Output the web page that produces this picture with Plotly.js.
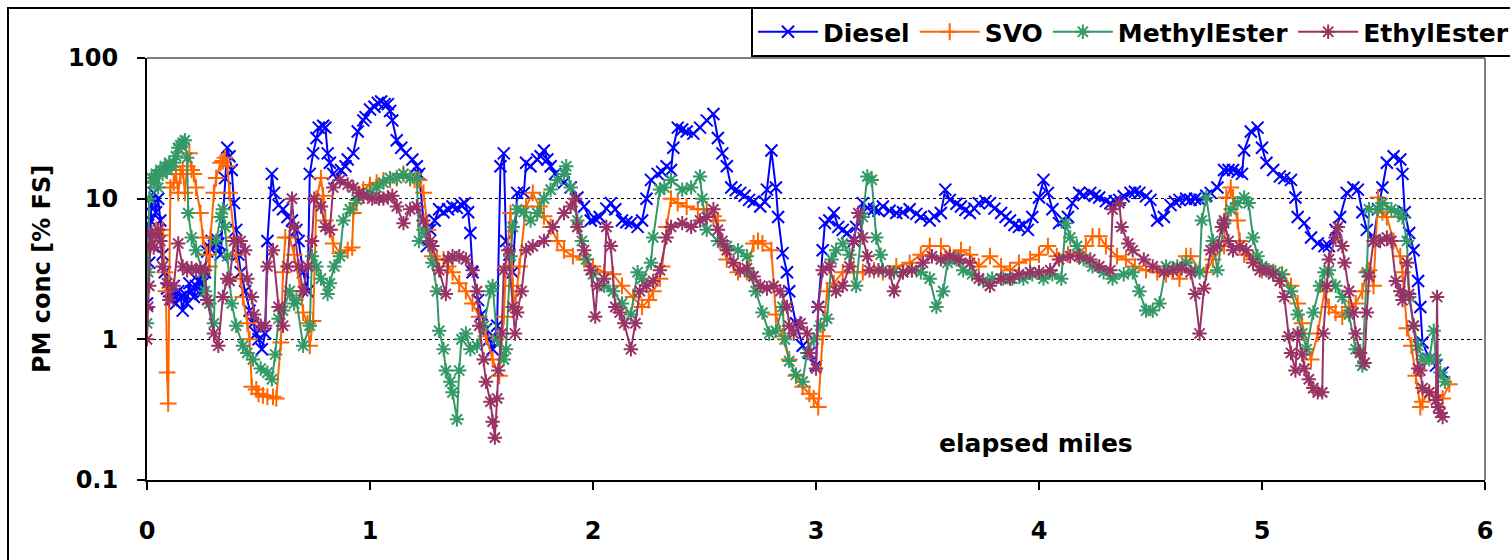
<!DOCTYPE html>
<html><head><meta charset="utf-8">
<script src="https://cdn.plot.ly/plotly-3.0.1.min.js"></script>
<style>
html,body{margin:0;padding:0;background:#fff;}
#wrap{position:relative;width:1510px;height:560px;overflow:hidden;}
#chart{position:absolute;left:0;top:0;width:1510px;height:560px;}
#frame{position:absolute;left:7px;top:7px;width:1520px;height:570px;border:2px solid #000;pointer-events:none;}
</style></head>
<body><div id="wrap"><div id="chart"></div><div id="frame"></div></div>
<script>
const xTickVals = [0,1,2,3,4,5,6];
const yTickVals = [0.1,1,10,100];
const yTickText = ['0.1','1','10','100'];
const seriesNames = ['Diesel','SVO','MethylEster','EthylEster'];

const dieselX = [0,0.005,0.01,0.015,0.02,0.03,0.04,0.05,0.06,0.07,0.08,0.09,0.10,0.11,0.12,0.13,0.14,0.15,0.16,0.17,0.18,0.19,0.20,0.21,0.22,0.23,0.24,0.25,0.26,0.27,0.28,0.29,0.30,0.31,0.32,0.33,0.35,0.36,0.37,0.38,0.39,0.40,0.41,0.42,0.44,0.46,0.475,0.49,0.50,0.515,0.53,0.54,0.56,0.57,0.59,0.61,0.63,0.65,0.67,0.68,0.70,0.72,0.73,0.745,0.76,0.77,0.79,0.80,0.81,0.82,0.835,0.85,0.87,0.89,0.90,0.925,0.945,0.97,0.98,1.00,1.02,1.035,1.05,1.065,1.08,1.09,1.10,1.12,1.14,1.16,1.19,1.21,1.22,1.24,1.255,1.27,1.29,1.31,1.33,1.35,1.37,1.39,1.41,1.425,1.44,1.45,1.46,1.485,1.50,1.52,1.535,1.55,1.57,1.585,1.60,1.61,1.625,1.64,1.66,1.69,1.70,1.72,1.75,1.765,1.78,1.795,1.81,1.83,1.85,1.87,1.90,1.93,1.96,1.99,2.01,2.03,2.06,2.08,2.10,2.13,2.15,2.17,2.20,2.22,2.24,2.26,2.29,2.31,2.33,2.35,2.36,2.38,2.40,2.42,2.45,2.48,2.51,2.54,2.56,2.58,2.60,2.62,2.64,2.66,2.68,2.70,2.72,2.75,2.77,2.78,2.80,2.82,2.83,2.85,2.87,2.88,2.91,2.94,2.97,3.00,3.01,3.03,3.04,3.06,3.08,3.10,3.12,3.14,3.17,3.18,3.21,3.23,3.26,3.28,3.30,3.33,3.36,3.39,3.42,3.45,3.47,3.51,3.53,3.56,3.58,3.60,3.63,3.65,3.67,3.69,3.71,3.73,3.76,3.78,3.80,3.83,3.85,3.87,3.89,3.91,3.93,3.95,3.97,4.00,4.02,4.04,4.06,4.09,4.11,4.13,4.15,4.18,4.20,4.23,4.25,4.27,4.30,4.32,4.34,4.36,4.38,4.41,4.43,4.45,4.48,4.50,4.53,4.56,4.59,4.61,4.63,4.66,4.68,4.70,4.72,4.75,4.77,4.80,4.83,4.85,4.87,4.89,4.91,4.92,4.95,4.98,5.00,5.02,5.05,5.08,5.10,5.13,5.15,5.16,5.19,5.22,5.25,5.28,5.30,5.33,5.35,5.38,5.41,5.43,5.45,5.47,5.50,5.52,5.54,5.56,5.59,5.62,5.63,5.64,5.66,5.68,5.70,5.71,5.72,5.75,5.78,5.81];
const dieselY = [1.8,6.5,3.5,7,9,11,8,10,7,4,3,2.3,2.2,1.9,2.4,1.8,2.2,2.0,1.6,2.1,1.8,2.5,2.2,2.0,2.4,2.6,2.1,2.5,3.0,4.2,4.5,5.0,4.6,5.2,4.8,4.0,14,23,20,16,9.3,6,4,3,2.2,1.6,1.3,1.1,1.0,0.85,1.1,5,15,11,9,8.4,7.4,7.0,6,5,3,2.2,15,21,27,32,33,32,21,18,15,14,16,17,19,21,30,36,38,43,45,48,49,47,47,42,36,26,23,21,19,17,15,7,4.6,6,7,8.4,8,8.4,8.8,8.6,9.0,9.3,8,5.7,3,1.9,1.5,1.18,1.0,0.85,1.25,17,21,5,4,3,11,11,18,17,19,20,22,19,17,15,14,13,12,10.2,8.8,7,7.2,7.4,8.5,9.3,8.4,7,6.8,6.7,6.3,7,10,13.6,15,15.5,17,16,23,32,31,30,29,32,36,40,27,21,17,12,11.5,11,10.5,9.8,9.5,8.8,9.5,11.6,22,12,7.4,4.1,3,2.2,1.3,0.9,0.8,0.65,1.7,4.3,6.7,7,7.9,6.3,6,5.7,5,6.3,9.3,8.6,8.4,8.2,8.8,8.2,7.9,8.0,8.4,7.8,7.4,7,7.5,7.9,11.6,9.8,9.2,8.8,8.3,7.9,8.5,9.3,9.6,9.3,8.5,7.9,7.4,7,6.5,6.3,6.5,6,7.4,10.2,13.6,11,8.4,6.7,7.0,7.4,9.3,11,10.6,11,10.5,10.2,9.6,9.3,9.6,9.8,10.4,11,11.2,11,10.4,9.8,7,7.4,9.0,9.5,9.8,10,9.8,10,9.8,10.5,11,12,16,16,16,15.5,15,22,30,32,23,18,16,14.4,14,13.6,10.2,7.4,6.7,5.3,4.8,4.6,4.6,6,7.4,11,12,11.6,8,6,5,8.4,12,18,20,19,15,8,5.7,4.3,2.6,1.7,0.95,0.72,0.65,0.58];

const svoX = [0,0.02,0.04,0.06,0.07,0.08,0.085,0.09,0.095,0.10,0.105,0.12,0.13,0.14,0.15,0.16,0.17,0.18,0.19,0.20,0.21,0.22,0.24,0.25,0.27,0.28,0.285,0.30,0.31,0.33,0.34,0.35,0.36,0.37,0.39,0.40,0.42,0.43,0.45,0.46,0.47,0.49,0.50,0.52,0.54,0.565,0.58,0.60,0.61,0.62,0.64,0.66,0.69,0.70,0.72,0.73,0.745,0.76,0.78,0.79,0.80,0.82,0.835,0.865,0.90,0.92,0.925,0.94,0.97,1.00,1.03,1.06,1.09,1.12,1.15,1.18,1.20,1.22,1.24,1.26,1.28,1.30,1.33,1.35,1.37,1.40,1.43,1.46,1.49,1.52,1.55,1.58,1.60,1.61,1.63,1.64,1.65,1.67,1.70,1.73,1.76,1.78,1.81,1.84,1.87,1.91,1.96,2.00,2.05,2.09,2.13,2.18,2.22,2.25,2.27,2.30,2.31,2.33,2.35,2.38,2.42,2.47,2.51,2.54,2.56,2.57,2.60,2.65,2.69,2.72,2.74,2.76,2.80,2.82,2.85,2.88,2.91,2.94,2.97,2.99,3.01,3.03,3.05,3.08,3.12,3.17,3.21,3.26,3.30,3.36,3.42,3.47,3.51,3.56,3.60,3.65,3.69,3.73,3.78,3.83,3.87,3.91,3.96,4.00,4.04,4.08,4.13,4.17,4.21,4.24,4.27,4.30,4.35,4.39,4.43,4.48,4.53,4.57,4.60,4.63,4.66,4.68,4.72,4.75,4.78,4.83,4.84,4.86,4.87,4.89,4.90,4.92,4.96,5.00,5.05,5.09,5.13,5.16,5.18,5.22,5.25,5.28,5.30,5.33,5.36,5.39,5.42,5.45,5.47,5.48,5.50,5.52,5.54,5.56,5.59,5.62,5.63,5.65,5.67,5.69,5.71,5.72,5.75,5.78,5.81,5.84];
const svoY = [4.5,5,6,5.5,6,3,2.2,0.58,0.35,2.5,12,13,15,11,15,16,11,17,21,16,15,12,7.9,5.3,4,3.3,5.3,11,14,18,18.5,19.5,17,11,5.3,4,2.7,2,1.3,1.0,0.46,0.44,0.41,0.40,0.39,0.39,0.38,0.95,3,5.3,5.3,4,2.2,1.55,1.3,0.9,1.35,10,14,10.5,7,6,4.8,4.1,4.3,4.5,7.9,9.3,11.6,12.5,13,13.5,13.6,14,15,14,13.6,13.6,11,6,3.9,3.7,3.7,3.3,3,2.5,2.2,1.8,1.45,1.05,0.72,0.55,1.45,3.3,7.9,2.4,1.7,3.3,8.8,11,8.8,7.5,6.3,5,4.3,3.9,3.7,3.3,3,2.9,2.4,2,1.7,1.9,2.2,2.7,3.3,6.3,10,9.3,8.8,8.4,8.4,7.5,7,5,3.7,3,3,4.8,5,4.8,4.3,1.5,1.05,0.72,0.55,0.46,0.41,0.38,0.33,1.05,2.2,2.5,3,3,3,3.1,3,3.3,3.5,4,4.6,4.6,4,4.3,4,3.3,3.9,3.3,3.1,3.5,3.7,4,4.6,3.9,4,4,4.6,5.4,5.4,4.6,3.9,3.7,3.3,3.1,3,2.9,3.1,2.7,3.9,3.9,3.1,3,3.7,4.6,10.2,12,10.2,7,5,4,3.7,3.1,3,2.9,2.4,1.8,1.3,0.72,1.1,2.2,1.7,1.55,1.45,1.7,1.8,2.2,3,3.1,2.4,10.2,8,7.4,5,3.9,3,1.2,0.9,0.55,0.33,0.36,0.42,0.40,0.38,0.48];

const methylX = [0,0.005,0.01,0.02,0.03,0.04,0.05,0.06,0.07,0.08,0.09,0.10,0.11,0.12,0.13,0.14,0.15,0.16,0.17,0.18,0.185,0.20,0.22,0.25,0.26,0.28,0.30,0.31,0.33,0.34,0.35,0.36,0.38,0.40,0.43,0.45,0.475,0.51,0.54,0.56,0.575,0.59,0.61,0.64,0.66,0.67,0.70,0.73,0.74,0.76,0.78,0.81,0.82,0.84,0.865,0.88,0.91,0.94,0.97,1.00,1.03,1.06,1.09,1.12,1.15,1.18,1.21,1.22,1.24,1.28,1.30,1.31,1.33,1.34,1.36,1.37,1.39,1.40,1.41,1.43,1.45,1.48,1.51,1.54,1.55,1.57,1.60,1.61,1.63,1.64,1.66,1.69,1.72,1.75,1.78,1.81,1.84,1.87,1.88,1.90,1.93,1.95,1.97,2.00,2.05,2.09,2.13,2.17,2.20,2.22,2.26,2.27,2.30,2.32,2.35,2.40,2.44,2.48,2.49,2.51,2.56,2.60,2.65,2.69,2.70,2.73,2.76,2.79,2.82,2.85,2.86,2.88,2.91,2.94,2.96,2.99,3.02,3.05,3.07,3.09,3.12,3.15,3.18,3.21,3.23,3.25,3.27,3.29,3.30,3.35,3.39,3.43,3.47,3.51,3.54,3.57,3.59,3.63,3.66,3.70,3.75,3.79,3.84,3.88,3.93,3.97,4.02,4.06,4.10,4.12,4.14,4.17,4.20,4.24,4.29,4.33,4.38,4.42,4.45,4.48,4.51,4.54,4.57,4.62,4.66,4.70,4.72,4.73,4.75,4.78,4.80,4.83,4.86,4.89,4.92,4.94,4.96,4.98,5.00,5.03,5.06,5.09,5.13,5.16,5.18,5.20,5.23,5.26,5.28,5.30,5.33,5.36,5.39,5.42,5.45,5.47,5.48,5.52,5.54,5.58,5.61,5.63,5.65,5.66,5.68,5.70,5.72,5.75,5.77,5.78,5.80,5.82];
const methylY = [1.3,3,10,14,13,15,12,16,15,17,16,18,17,18,20,23,24,25,26,19.5,7.9,5.3,4.3,3,2.2,1.8,1.3,5,7.4,8.4,6.3,3.9,1.8,1.25,0.9,0.8,0.72,0.62,0.58,0.52,0.78,1.4,1.6,2.2,1.8,1.9,0.9,1.25,3.9,3.3,2.7,2.1,2.5,3.3,3.9,7,8.4,9.8,10.5,11,12,13,14,14,15,14,14,5,6,3.5,2.2,1.15,0.85,0.6,0.5,0.42,0.27,0.6,1.0,1.1,0.85,0.9,1.25,2.2,2.4,1.0,0.72,0.85,3.9,6.3,8.4,8,7,7.9,10,11.6,13.6,15,17,12,7,5,3.7,2.9,2.4,2.2,1.8,1.5,3,2.7,3.5,5.3,11.6,12,13.6,11.6,12,14.4,10,6,5,4.6,4.3,3.9,3,2.2,1.55,1.1,1.15,1.7,1.0,0.7,0.56,0.5,0.8,1.0,1.25,1.4,3.7,4.3,4.8,4,2.4,7.4,14.4,13.6,5.3,4,3.1,3,3,3.1,3,2.7,1.7,2.2,3.5,3.7,3.1,2.9,2.6,2.7,2.7,2.7,2.7,2.9,2.7,2.9,2.7,6.7,5.3,4.6,3.7,3.3,3,2.7,2.9,3.0,2.2,1.6,1.6,1.8,3.3,3.3,3.5,3.1,3,7,10.2,5,3.1,6.7,8.4,9.3,10.2,9.3,5.3,3.9,3.3,3.1,3.0,2.9,2.2,1.5,1.1,0.85,1.55,2.4,3,3.1,2.4,2,1.5,0.85,0.65,3,8.4,8.4,9.3,8.4,8,7.4,5,2,1.25,0.9,0.72,0.72,1.15,0.72,0.58,0.5];

const ethylX = [0,0.005,0.01,0.015,0.02,0.03,0.04,0.05,0.06,0.07,0.09,0.10,0.12,0.14,0.16,0.18,0.20,0.22,0.24,0.26,0.27,0.30,0.32,0.34,0.36,0.37,0.39,0.42,0.44,0.45,0.47,0.48,0.51,0.53,0.54,0.565,0.59,0.61,0.63,0.65,0.66,0.68,0.70,0.72,0.74,0.75,0.78,0.80,0.82,0.835,0.865,0.90,0.925,0.95,0.97,1.01,1.04,1.06,1.08,1.10,1.12,1.15,1.18,1.21,1.24,1.27,1.28,1.31,1.34,1.35,1.37,1.40,1.43,1.46,1.48,1.49,1.51,1.52,1.54,1.55,1.56,1.57,1.575,1.59,1.60,1.62,1.64,1.65,1.66,1.68,1.70,1.73,1.78,1.82,1.87,1.90,1.92,1.93,1.96,1.99,2.01,2.02,2.05,2.06,2.08,2.10,2.12,2.14,2.17,2.19,2.21,2.24,2.27,2.30,2.33,2.35,2.40,2.44,2.48,2.51,2.54,2.56,2.58,2.60,2.63,2.66,2.69,2.72,2.75,2.78,2.81,2.84,2.87,2.88,2.90,2.93,2.96,2.97,3.00,3.01,3.03,3.06,3.09,3.12,3.15,3.17,3.19,3.21,3.23,3.24,3.28,3.33,3.35,3.39,3.43,3.48,3.52,3.56,3.60,3.64,3.69,3.73,3.78,3.83,3.87,3.91,3.96,4.00,4.05,4.09,4.14,4.18,4.23,4.27,4.32,4.33,4.36,4.37,4.40,4.42,4.47,4.51,4.56,4.60,4.64,4.68,4.70,4.72,4.74,4.77,4.80,4.82,4.83,4.85,4.87,4.90,4.93,4.96,4.99,5.02,5.05,5.08,5.10,5.12,5.13,5.15,5.16,5.18,5.19,5.21,5.23,5.25,5.27,5.275,5.29,5.30,5.33,5.34,5.36,5.37,5.39,5.41,5.42,5.44,5.46,5.47,5.48,5.50,5.53,5.56,5.58,5.60,5.62,5.63,5.65,5.66,5.68,5.70,5.71,5.72,5.75,5.78,5.785,5.79,5.80,5.81];
const ethylY = [1.0,1.7,2.4,4.6,5.7,4.5,5.5,6,5,3.3,2.5,1.9,2.4,4.8,3.3,3.1,3.2,3.1,3.2,3.1,1.9,1.1,0.9,2,2.7,2.6,5,5,4.3,2.7,2,1.5,1.25,1.25,3.3,4.3,1.7,1.25,3.3,10,6.3,3.3,2.2,3.3,5,10,8.8,6.3,6,12,13.6,12.6,12,11,10.5,10,10,10,10.2,10.5,8.8,6.7,8.4,8.8,7,5,4.6,3.1,2.1,3.7,3.9,3.9,3.7,3.1,2.2,1.25,0.72,0.5,0.36,0.26,0.2,0.38,0.6,1.1,3.1,4.3,1.7,1.1,1.55,2.2,4.3,4.6,5,6.3,7.9,8.8,10,6.3,4.3,3.1,1.45,2.4,2.7,6.3,4.6,1.7,1.55,1.3,0.85,1.3,2.2,2.4,2.6,3.1,5.3,6.3,6.7,6.3,7,7.4,8.4,6,5,4.3,3.5,3.1,3.2,2.8,2.4,2.3,2.4,2.2,1.7,1.25,1.1,1.3,1.1,0.8,0.62,1.7,3.1,3.3,2.2,2.4,3.3,5,7.9,5.3,3.9,3.1,3.1,3,2.2,3,3.1,3.5,3.9,3.7,3.9,3.7,3.5,2.7,2.4,2.7,2.7,2.9,3,3,3.1,3.7,3.9,3.9,3.7,3.3,3.1,8.4,9.3,6.3,4.8,4.3,3.7,3.3,3,3.1,3.2,3,2.1,1.1,2.3,4.3,4.6,6.3,7,5,4.3,4.6,4.3,3.5,3.1,3.1,2.9,2.6,2,1.05,0.8,0.6,1.1,0.78,0.62,0.52,0.45,0.42,0.42,1.1,2.4,3.7,5.3,6.3,4.6,3.5,2.2,1.55,1.1,0.8,0.68,1.55,2.8,5,5,5.3,5,2.6,2.2,1.9,3.5,2.1,1.25,0.62,0.6,0.45,0.42,0.37,2.0,0.33,0.3,0.28];

const colors = ['#0000FF','#FF6600','#339966','#993366'];
const symbols = ['x-thin-open','cross-thin-open','asterisk-open','asterisk-open'];
const xs = [dieselX, svoX, methylX, ethylX];
const ys = [dieselY, svoY, methylY, ethylY];

const FONT = 'DejaVu Sans, Verdana, sans-serif';
const traces = seriesNames.map((n,i)=>({
  type:'scatter', mode:'lines+markers', name:n, x:xs[i], y:ys[i],
  line:{color:colors[i], width:2},
  marker:{symbol:symbols[i], size:12, color:colors[i], line:{color:colors[i], width:2}}
}));

const layout = {
  width:1510, height:560,
  margin:{l:147, r:25, t:58, b:80, autoexpand:false},
  paper_bgcolor:'#fff', plot_bgcolor:'#fff',
  showlegend:true,
  legend:{orientation:'h', x:(751-147)/1338, xanchor:'left', y:(480-7)/422, yanchor:'top',
    itemwidth:60,
    bgcolor:'#fff', bordercolor:'#000', borderwidth:2,
    font:{family:FONT, size:25, color:'#000', weight:'bold'}},
  xaxis:{range:[0,6], tickvals:xTickVals, ticks:'outside', ticklen:8, tickwidth:2, tickcolor:'#000',
    showline:true, linecolor:'#000', linewidth:2, showgrid:false, zeroline:false,
    ticklabelstandoff:20, automargin:false,
    tickfont:{family:FONT, size:24, color:'#000', weight:'bold'}},
  yaxis:{type:'log', range:[-1,2], tickvals:yTickVals, ticktext:yTickText, ticks:'outside', ticklen:8, tickwidth:2, tickcolor:'#000',
    showline:true, linecolor:'#000', linewidth:2, showgrid:true, gridcolor:'#000', gridwidth:1, griddash:'dot', zeroline:false,
    ticklabelstandoff:14, automargin:false,
    tickfont:{family:FONT, size:24, color:'#000', weight:'bold'}},
  shapes:[
    {type:'line', xref:'paper', yref:'paper', x0:0, x1:1, y0:1, y1:1, line:{color:'#808080', width:2}},
    {type:'line', xref:'paper', yref:'paper', x0:1, x1:1, y0:0, y1:1, line:{color:'#808080', width:2}}
  ],
  annotations:[
    {text:'PM conc [% FS]', xref:'paper', yref:'paper', x:(42-147)/1338, y:0.5, textangle:-90, showarrow:false,
     xanchor:'center', yanchor:'middle', font:{family:FONT, size:24, color:'#000', weight:'bold'}},
    {text:'elapsed miles', xref:'paper', yref:'paper', x:(1036-147)/1338, y:(480-443)/422, showarrow:false,
     xanchor:'center', yanchor:'middle', font:{family:FONT, size:25, color:'#000', weight:'bold'}}
  ]
};
Plotly.newPlot('chart', traces, layout, {staticPlot:true});
</script></body></html>
